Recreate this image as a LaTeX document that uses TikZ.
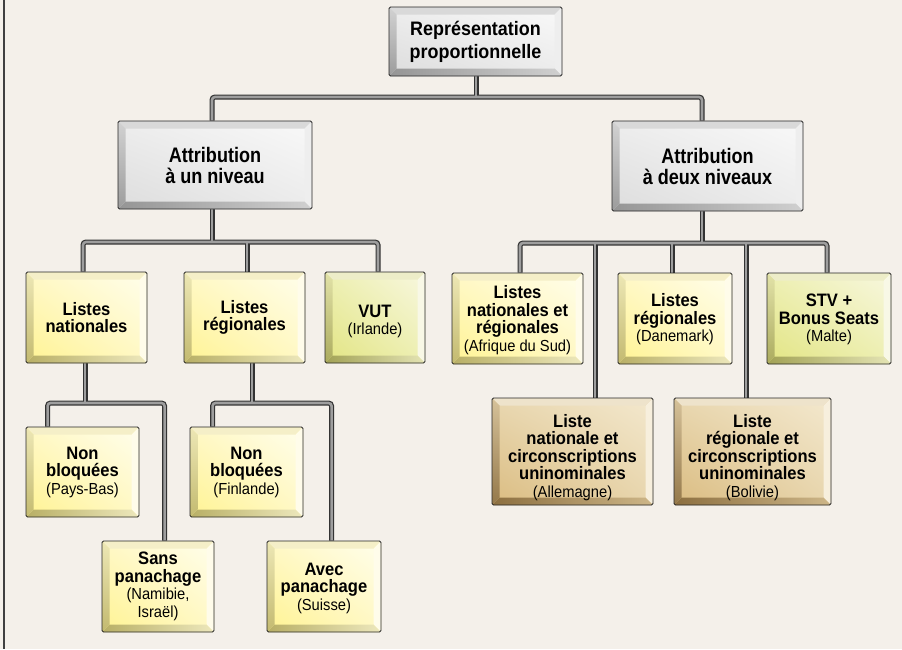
\documentclass[tikz,border=0pt]{standalone}
\usepackage{fontspec}
\setmainfont{Liberation Sans}[FakeStretch=0.92]
\newfontfamily\narrowf{Liberation Sans}[FakeStretch=0.86]
\usetikzlibrary{calc,shadings}
\pgfdeclarelayer{back}\pgfdeclarelayer{bg}
\pgfsetlayers{back,bg,main}
\definecolor{paper}{HTML}{F4F0EA}
% grey
\definecolor{Gface1}{HTML}{DFDFDF}\definecolor{Gface2}{HTML}{F7F7F7}\definecolor{Gface3}{HTML}{ECECEC}
\definecolor{Gtop}{HTML}{D9D9D9}\definecolor{Gright}{HTML}{EEEEEE}
\definecolor{Gleft1}{HTML}{D2D2D2}\definecolor{Gleft2}{HTML}{9C9C9C}
\definecolor{Gbot1}{HTML}{959595}\definecolor{Gbot2}{HTML}{D0D0D0}
% yellow
\definecolor{Yface1}{HTML}{FFF49A}\definecolor{Yface2}{HTML}{FFFDE6}\definecolor{Yface3}{HTML}{FFF8C4}
\definecolor{Ytop}{HTML}{F5EFC8}\definecolor{Yright}{HTML}{FFFCEA}
\definecolor{Yleft1}{HTML}{EDE7B5}\definecolor{Yleft2}{HTML}{C3BA70}
\definecolor{Ybot1}{HTML}{B8AF66}\definecolor{Ybot2}{HTML}{EDE8BC}
% green-yellow
\definecolor{Sface1}{HTML}{E4E68A}\definecolor{Sface2}{HTML}{F6F6D8}\definecolor{Sface3}{HTML}{EDEFB2}
\definecolor{Stop}{HTML}{EDEDC8}\definecolor{Sright}{HTML}{F8F8E6}
\definecolor{Sleft1}{HTML}{E2E2A8}\definecolor{Sleft2}{HTML}{ABAB5E}
\definecolor{Sbot1}{HTML}{A2A256}\definecolor{Sbot2}{HTML}{E4E4B4}
% brown
\definecolor{Bface1}{HTML}{DCBF86}\definecolor{Bface2}{HTML}{F2E6CA}\definecolor{Bface3}{HTML}{E8D6AE}
\definecolor{Btop}{HTML}{EEE3CB}\definecolor{Bright}{HTML}{F7EFDD}
\definecolor{Bleft1}{HTML}{D6C29A}\definecolor{Bleft2}{HTML}{94784A}
\definecolor{Bbot1}{HTML}{8C6F40}\definecolor{Bbot2}{HTML}{CDB688}
\newcommand\bevw{7.5pt}
\newcommand\ttl{\fontsize{19.5}{23}\selectfont\bfseries}
\newcommand\ttm{\narrowf\fontsize{21}{21}\selectfont\bfseries}
\newcommand\tts{\fontsize{18}{17.5}\selectfont\bfseries}
\newcommand\subt[1]{{\fontsize{16}{17.5}\selectfont\mdseries #1}}
\newcommand\dn[1]{\rule{0pt}{#1}}
\tikzset{
  bev/.style={draw=black!85, line width=0.9pt, rounded corners=1.5pt,
    fill=#1face1, align=center, inner sep=0pt, font=\tts,
    path picture={
      \coordinate (bsw) at (path picture bounding box.south west);
      \coordinate (bne) at (path picture bounding box.north east);
      \coordinate (bnw) at (path picture bounding box.north west);
      \coordinate (bse) at (path picture bounding box.south east);
      \coordinate (isw) at ([shift={(\bevw,\bevw)}]bsw);
      \coordinate (ine) at ([shift={(-\bevw,-\bevw)}]bne);
      \coordinate (inw) at ([shift={(\bevw,-\bevw)}]bnw);
      \coordinate (ise) at ([shift={(-\bevw,\bevw)}]bse);
      \shade[sharp corners, lower left=#1face1, upper right=#1face2,
             upper left=#1face3, lower right=#1face3] (isw) rectangle (ine);
      \fill[sharp corners, #1top] (bnw) -- (bne) -- (ine) -- (inw) -- cycle;
      \fill[sharp corners, #1right] (bne) -- (bse) -- (ise) -- (ine) -- cycle;
      \shade[sharp corners, left color=#1bot1, right color=#1bot2]
             (bsw) -- (bse) -- (ise) -- (isw) -- cycle;
      \shade[sharp corners, top color=#1left1, bottom color=#1left2]
             (bsw) -- (bnw) -- (inw) -- (isw) -- cycle;
    }},
  connout/.style={draw=black!80, line width=5pt, rounded corners=3pt},
  connin/.style={draw=black!38, line width=2.6pt, rounded corners=3pt},
}
\begin{document}
\begin{tikzpicture}[x=1pt,y=-1pt]
\begin{pgfonlayer}{back}
\fill[paper] (0,0) rectangle (902,649);
\end{pgfonlayer}
\useasboundingbox (0,0) rectangle (902,649);
\draw[black!75, line width=1.8pt] (4.2,0) -- (4.2,649);

% level 1
\node[bev=G, minimum width=173pt, minimum height=69pt, font=\ttl] (top) at (475.5,41.5) {Représentation\\proportionnelle};
% level 2
\node[bev=G, minimum width=194pt, minimum height=88pt, font=\ttm] (una) at (215,165) {Attribution\\à un niveau};
\node[bev=G, minimum width=191pt, minimum height=90pt, font=\ttm] (deux) at (707.5,166) {Attribution\\à deux niveaux};
% level 3 left
\node[bev=Y, minimum width=121pt, minimum height=91pt] (ln) at (86.5,317.5) {Listes\\nationales};
\node[bev=Y, minimum width=121pt, minimum height=91pt] (lr) at (244.5,317.5) {Listes\\régionales};
\node[bev=S, minimum width=100pt, minimum height=91pt] (vut) at (375,317.5) {\dn{20pt}VUT\\\subt{(Irlande)}};
% level 3 right
\node[bev=Y, minimum width=131pt, minimum height=91pt] (nr) at (517.5,318.5) {\dn{16pt}Listes\\nationales et\\régionales\\\subt{(Afrique du Sud)}};
\node[bev=Y, minimum width=114pt, minimum height=91pt] (dk) at (675,318.5) {\dn{15pt}Listes\\régionales\\\subt{(Danemark)}};
\node[bev=S, minimum width=124pt, minimum height=91pt] (stv) at (829,318.5) {\dn{15pt}STV +\\Bonus Seats\\\subt{(Malte)}};
\node[bev=B, minimum width=161pt, minimum height=107pt] (br1) at (572.5,451.5) {\dn{25pt}Liste\\nationale et\\circonscriptions\\uninominales\\\subt{(Allemagne)}};
\node[bev=B, minimum width=157pt, minimum height=107pt] (br2) at (752.5,451.5) {\dn{25pt}Liste\\régionale et\\circonscriptions\\uninominales\\\subt{(Bolivie)}};
% level 4
\node[bev=Y, minimum width=113pt, minimum height=90pt] (nb1) at (82.5,472) {Non\\bloquées\\\subt{(Pays-Bas)}};
\node[bev=Y, minimum width=112pt, minimum height=91pt] (sp) at (158,586.5) {Sans\\panachage\\\subt{(Namibie,}\\\subt{Israël)}};
\node[bev=Y, minimum width=113pt, minimum height=90pt] (nb2) at (246.5,472) {Non\\bloquées\\\subt{(Finlande)}};
\node[bev=Y, minimum width=114pt, minimum height=91pt] (ap) at (324,586.5) {\dn{16pt}Avec\\panachage\\\subt{(Suisse)}};

% junctions
\coordinate (j0) at (476,97);
\coordinate (j1) at (212,242);
\coordinate (j2) at (702,243);
\coordinate (j3) at (85,403);
\coordinate (j4) at (252,403);

\begin{pgfonlayer}{bg}
\foreach \st in {connout,connin}{
  \draw[\st] (top.south -| j0) -- (j0);
  \draw[\st] ([xshift=-3pt]una.north) |- (j0) -| ([xshift=-5.5pt]deux.north);
  \draw[\st] (una.south -| j1) -- (j1);
  \draw[\st] ([xshift=-3.5pt]ln.north) |- (j1) -| ([xshift=3pt]vut.north);
  \draw[\st] ([xshift=2.5pt]lr.north) -- ([xshift=2.5pt]lr.north |- j1);
  \draw[\st] (deux.south -| j2) -- (j2);
  \draw[\st] ([xshift=2.5pt]nr.north) |- (j2) -| ([xshift=-2pt]stv.north);
  \draw[\st] ([xshift=-3pt]dk.north) -- ([xshift=-3pt]dk.north |- j2);
  \draw[\st] ([xshift=22.5pt]br1.north) -- ([xshift=22.5pt]br1.north |- j2);
  \draw[\st] ([xshift=-6.5pt]br2.north) -- ([xshift=-6.5pt]br2.north |- j2);
  \draw[\st] (ln.south -| j3) -- (j3);
  \draw[\st] ([xshift=22pt]nb1.north west) |- (j3) -| ([xshift=63pt]sp.north west);
  \draw[\st] (lr.south -| j4) -- (j4);
  \draw[\st] ([xshift=23pt]nb2.north west) |- (j4) -| ([xshift=65pt]ap.north west);
}
\end{pgfonlayer}
\end{tikzpicture}
\end{document}
